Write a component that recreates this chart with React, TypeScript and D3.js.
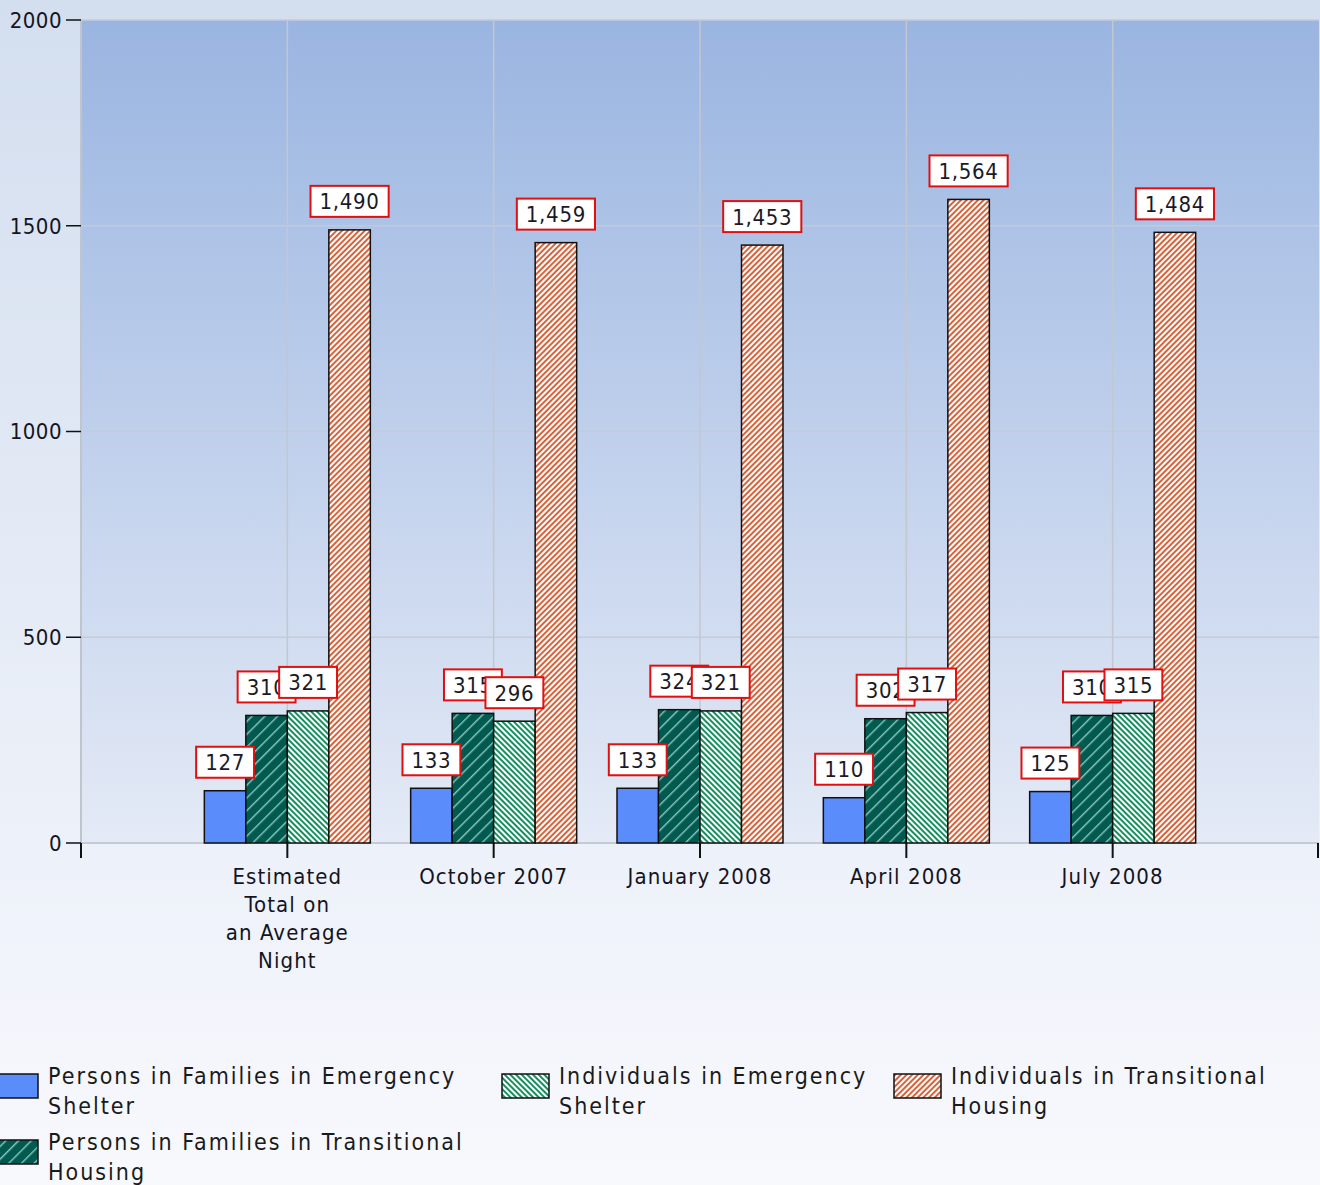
import React, { useEffect, useRef } from "react";
import * as d3 from "d3";

// categories on the x axis ("\n" = line break in the tick label)
const categories = [
  "Estimated\nTotal on\nan Average\nNight",
  "October 2007",
  "January 2008",
  "April 2008",
  "July 2008",
];

// series names ("\n" = line break in the legend)
const seriesNames = [
  "Persons in Families in Emergency\nShelter",
  "Persons in Families in Transitional\nHousing",
  "Individuals in Emergency\nShelter",
  "Individuals in Transitional\nHousing",
];

const familiesEmergency = [127, 133, 133, 110, 125];
const familiesTransitional = [310, 315, 324, 302, 310];
const individualsEmergency = [321, 296, 321, 317, 315];
const individualsTransitional = [1490, 1459, 1453, 1564, 1484];

const seriesValues = [
  familiesEmergency,
  familiesTransitional,
  individualsEmergency,
  individualsTransitional,
];

const yTicks = [0, 500, 1000, 1500, 2000];

const W = 1320;
const H = 1185;
const margin = { top: 20, right: 1, bottom: 342, left: 81 };
const FONT = "'DejaVu Sans Condensed', 'DejaVu Sans', sans-serif";

// legend slots (column x, row y)
const legendSlots = [
  { x: -9, y: 1074 },
  { x: -9, y: 1140 },
  { x: 502, y: 1074 },
  { x: 894, y: 1074 },
];

const App = () => {
  const ref = useRef<SVGSVGElement>(null);

  useEffect(() => {
    const svg = d3.select(ref.current);
    svg.selectAll("*").remove();
    const defs = svg.append("defs");

    const grad = (id: string, stops: [string, string][]) => {
      const g = defs
        .append("linearGradient")
        .attr("id", id)
        .attr("x1", 0)
        .attr("y1", 0)
        .attr("x2", 0)
        .attr("y2", 1);
      stops.forEach(([o, c]) =>
        g.append("stop").attr("offset", o).attr("stop-color", c)
      );
    };
    grad("bg", [
      ["0%", "#d3deef"],
      ["72%", "#edf1f9"],
      ["100%", "#f8f9fd"],
    ]);
    grad("plotbg", [
      ["0%", "#9ab5e1"],
      ["100%", "#e4eaf6"],
    ]);

    const stripe = (
      id: string,
      base: string,
      color: string,
      size: number,
      w: number,
      angle: number
    ) => {
      const p = defs
        .append("pattern")
        .attr("id", id)
        .attr("patternUnits", "userSpaceOnUse")
        .attr("width", size)
        .attr("height", size)
        .attr("patternTransform", `rotate(${angle})`);
      p.append("rect").attr("width", size).attr("height", size).attr("fill", base);
      p.append("rect").attr("width", w).attr("height", size).attr("fill", color);
    };
    stripe("pTeal", "#005a50", "#8ec6bb", 9, 1.4, 45);
    stripe("pGreen", "#ffffff", "#14905e", 4, 2, -45);
    stripe("pOrange", "#ffffff", "#d8623a", 4, 2, 45);
    const fills = ["#5a8cfb", "url(#pTeal)", "url(#pGreen)", "url(#pOrange)"];

    svg.append("rect").attr("width", W).attr("height", H).attr("fill", "url(#bg)");

    const x = d3
      .scalePoint<string>()
      .domain(categories)
      .range([margin.left, W - margin.right])
      .padding(1);
    const y = d3
      .scaleLinear()
      .domain([0, 2000])
      .range([H - margin.bottom, margin.top]);
    const inner = d3
      .scaleBand<number>()
      .domain(d3.range(seriesNames.length))
      .range([-83, 83]);

    const x0 = margin.left;
    const x1 = W - margin.right;

    svg
      .append("rect")
      .attr("x", x0)
      .attr("y", y(2000))
      .attr("width", x1 - x0)
      .attr("height", y(0) - y(2000))
      .attr("fill", "url(#plotbg)");

    // grid
    svg
      .append("g")
      .selectAll("line")
      .data(yTicks)
      .join("line")
      .attr("x1", x0)
      .attr("x2", x1)
      .attr("y1", (d) => y(d))
      .attr("y2", (d) => y(d))
      .attr("stroke", "#c6cbd3")
      .attr("stroke-width", (d) => (d === 0 ? 2 : 1.5));
    svg
      .append("g")
      .selectAll("line")
      .data(categories)
      .join("line")
      .attr("x1", (d) => x(d)!)
      .attr("x2", (d) => x(d)!)
      .attr("y1", y(2000))
      .attr("y2", y(0))
      .attr("stroke", "#c2c7d0")
      .attr("stroke-width", 1.5);
    svg
      .append("line")
      .attr("x1", x0)
      .attr("x2", x0)
      .attr("y1", y(2000))
      .attr("y2", y(0))
      .attr("stroke", "#c0c4cc")
      .attr("stroke-width", 2);

    // y axis
    const ya = svg.append("g");
    ya.selectAll("line")
      .data(yTicks)
      .join("line")
      .attr("x1", x0 - 15)
      .attr("x2", x0)
      .attr("y1", (d) => y(d))
      .attr("y2", (d) => y(d))
      .attr("stroke", "#111")
      .attr("stroke-width", 1.5);
    ya.selectAll("text")
      .data(yTicks)
      .join("text")
      .attr("x", x0 - 19)
      .attr("y", (d) => y(d))
      .attr("dy", "0.36em")
      .attr("text-anchor", "end")
      .attr("font-family", FONT)
      .attr("font-size", 22)
      .attr("letter-spacing", 0.5)
      .attr("fill", "#14141e")
      .text((d) => String(d));

    // x axis ticks
    const xa = svg.append("g");
    const tickXs = [x0, ...categories.map((c) => x(c)!), x1 - 1];
    xa.selectAll("line")
      .data(tickXs)
      .join("line")
      .attr("x1", (d) => d)
      .attr("x2", (d) => d)
      .attr("y1", y(0))
      .attr("y2", y(0) + 15)
      .attr("stroke", "#111")
      .attr("stroke-width", 2);
    const xl = xa
      .selectAll("text")
      .data(categories)
      .join("text")
      .attr("x", (d) => x(d)!)
      .attr("y", y(0) + 41)
      .attr("dy", "0.36em")
      .attr("text-anchor", "middle")
      .attr("font-family", FONT)
      .attr("font-size", 22)
      .attr("letter-spacing", 1.1)
      .attr("fill", "#14141e");
    xl.selectAll("tspan")
      .data((d) => d.split("\n").map((t) => ({ t, c: d })))
      .join("tspan")
      .attr("x", (d) => x(d.c)!)
      .attr("dy", (d, i) => (i === 0 ? 0 : 28))
      .text((d) => d.t);

    // bars
    seriesValues.forEach((vals, si) => {
      svg
        .append("g")
        .selectAll("rect")
        .data(vals)
        .join("rect")
        .attr("x", (d, i) => x(categories[i])! + inner(si)!)
        .attr("y", (d) => y(d))
        .attr("width", inner.bandwidth())
        .attr("height", (d) => y(0) - y(d))
        .attr("fill", fills[si])
        .attr("stroke", "#111")
        .attr("stroke-width", 1.5);
    });

    // value labels
    const fmt = d3.format(",");
    seriesValues.forEach((vals, si) => {
      vals.forEach((v, i) => {
        const cx = x(categories[i])! + inner(si)! + inner.bandwidth() / 2;
        const cy = y(v) - 13 - 15.5;
        const g = svg.append("g");
        const r = g.append("rect");
        const t = g
          .append("text")
          .attr("x", cx)
          .attr("y", cy)
          .attr("dy", "0.36em")
          .attr("text-anchor", "middle")
          .attr("font-family", FONT)
          .attr("font-size", 22)
          .attr("letter-spacing", 0.7)
          .attr("fill", "#1a1a26")
          .text(fmt(v));
        const tw = (t.node() as SVGTextElement).getComputedTextLength();
        const bw = tw + 18;
        r.attr("x", cx - bw / 2)
          .attr("y", cy - 15.5)
          .attr("width", bw)
          .attr("height", 31)
          .attr("fill", "#fff")
          .attr("stroke", "#e01010")
          .attr("stroke-width", 2);
      });
    });

    // legend
    const lg = svg.append("g");
    seriesNames.forEach((name, si) => {
      const s = legendSlots[si];
      lg.append("rect")
        .attr("x", s.x)
        .attr("y", s.y)
        .attr("width", 47)
        .attr("height", 24)
        .attr("fill", fills[si])
        .attr("stroke", "#111")
        .attr("stroke-width", 1.5);
      const t = lg
        .append("text")
        .attr("font-family", FONT)
        .attr("font-size", 23)
        .attr("letter-spacing", 2)
        .attr("fill", "#1a1a1a");
      name.split("\n").forEach((line, li) => {
        t.append("tspan")
          .attr("x", s.x + 57)
          .attr("y", s.y + 2 + li * 30)
          .attr("dy", "0.36em")
          .text(line);
      });
    });
  }, []);

  return (
    <div style={{ position: "absolute", left: 0, top: 0 }}>
      <svg ref={ref} width={W} height={H} style={{ display: "block" }} />
    </div>
  );
};

export default App;
